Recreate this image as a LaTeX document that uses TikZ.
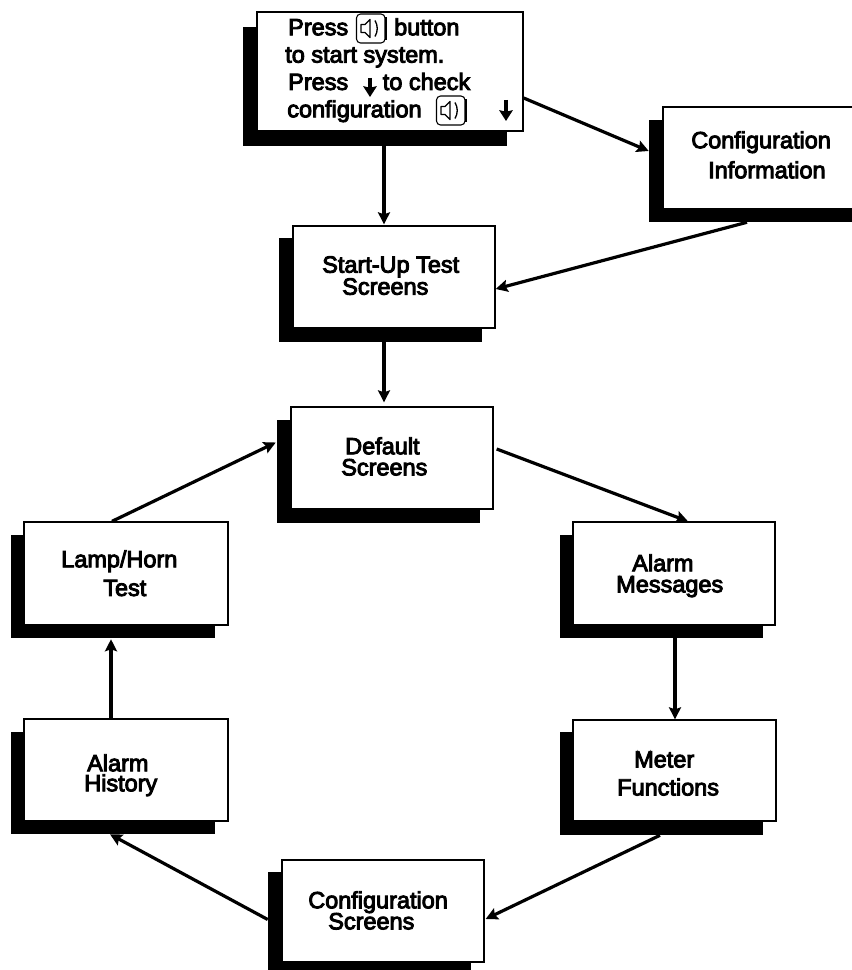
\documentclass[tikz,border=0pt]{standalone}
\usepackage{fontspec}
\setmainfont{Liberation Sans}
\usetikzlibrary{arrows.meta,fit}
\newcommand{\heavyon}{\special{pdf:code 2 Tr 0.7 w}}
\newcommand{\heavyoff}{\special{pdf:code 0 Tr 1 w}}
\tikzset{
  whitebox/.style={draw=black,fill=white,line width=1pt,inner sep=0pt},
  shadowbox/.style={draw=none,fill=black,inner sep=0pt},
  conn/.style={draw=black,line width=2.4pt,-{Stealth[length=9pt,width=9pt,inset=1.5pt]}},
  glyph/.style={draw=black,line width=2.4pt,-{Stealth[length=8pt,width=10pt,inset=1pt]}},
  iconline/.style={draw=black,line width=.8pt,line join=round},
  lbl/.style={align=left,inner sep=0pt,anchor=north west,text=black,
    execute at begin node=\heavyon,execute at end node=\heavyoff}
}
% name, white x1 y1 x2 y2, shadow x1 y1 x2 y2
\newcommand{\dropbox}[9]{%
  \node[shadowbox,fit={(#6,#7)(#8,#9)}] (#1S) {};
  \node[whitebox,fit={(#2,#3)(#4,#5)}] (#1) {};
}
% name, x, baseline of first line (px), line spacing (pt), text
\newcommand{\boxlabel}[5]{%
  \node[lbl,font={\fontsize{17.6}{#4}\selectfont\lineskiplimit=-100pt}] (#1) at (#2,#3-17) {#5};
}
\newcommand{\speaker}[2]{%
  \begin{scope}[shift={(#1,#2)}]
    \draw[iconline,rounded corners=3pt] (-14.5,-14.5) rectangle (14,14.5);
    \draw[iconline,line width=1.3pt] (15,-11) -- (15,12);
    \draw[iconline,line width=1pt] (-10,-4) -- (-6,-4) -- (-1,-9) -- (-1,9) -- (-6,4) -- (-10,4) -- cycle;
    \draw[iconline,line width=1pt] (4,-8) .. controls (7,-3) and (7,3) .. (4,8);
  \end{scope}
}
\begin{document}
\begin{tikzpicture}[x=.75pt,y=-.75pt]
\useasboundingbox (0,0) rectangle (852,970);
\fill[white] (0,0) rectangle (852,970);

\dropbox{top}{257}{12}{523}{131}{243}{27}{507}{146}
\dropbox{info}{663}{107}{870}{209}{649}{120}{870}{222}
\dropbox{startup}{293}{226}{495}{328}{279}{238}{482}{342}
\dropbox{default}{291}{407}{493}{509}{277}{420}{480}{523}
\dropbox{lamp}{24}{522}{228}{625}{11}{535}{215}{638}
\dropbox{history}{24}{719}{228}{821}{11}{732}{215}{834}
\dropbox{messages}{573}{522}{775}{625}{560}{535}{763}{638}
\dropbox{meter}{573}{720}{776}{821}{560}{732}{763}{835}
\dropbox{cscreens}{282}{860}{484}{962}{268}{872}{471}{985}

\node[lbl,font={\fontsize{17.6}{20.5}\selectfont\lineskiplimit=-100pt}] (toptext) at (285,18)
 {\hspace*{2.2pt}Press\hspace{34.5pt}button\\to start system.\\\hspace*{2.2pt}Press\hspace{26pt}to check\\\hspace*{1.5pt}configuration};
\speaker{371}{28.5}
\speaker{451}{110.5}
\draw[glyph] (370,78) -- (370,97);
\draw[glyph] (506,100) -- (506,121);

\boxlabel{infotext}{691}{148}{22.5}{Configuration\\\hspace*{12.7pt}Information}
\boxlabel{startuptext}{322}{273}{16.5}{Start-Up Test\\\hspace*{15pt}Screens}
\boxlabel{defaulttext}{341}{454}{15.8}{\hspace*{3pt}Default\\Screens}
\boxlabel{lamptext}{61}{567}{21.5}{Lamp/Horn\\\hspace*{31.5pt}Test}
\boxlabel{historytext}{84}{771}{15}{\hspace*{2.2pt}Alarm\\History}
\boxlabel{messagestext}{616}{571}{15.8}{\hspace*{12pt}Alarm\\Messages}
\boxlabel{metertext}{617}{768}{21}{\hspace*{12.7pt}Meter\\Functions}
\boxlabel{cscreenstext}{308}{908}{15.8}{Configuration\\\hspace*{15pt}Screens}

\draw[conn] ([shift={(9,0)}]topS.south) -- ([shift={(-10,-1)}]startup.north);
\draw[conn] ([shift={(0,26.5)}]top.east) -- ([shift={(0,-20)}]infoS.west);
\draw[conn] ([shift={(-12.5,0)}]infoS.south) -- ([shift={(0,12)}]startup.east);
\draw[conn] ([shift={(3.5,0)}]startupS.south) -- ([shift={(-8,-4)}]default.north);
\draw[conn] ([shift={(3,-9)}]default.east) -- ([shift={(14,0)}]messages.north);
\draw[conn] ([shift={(13.5,0)}]messagesS.south) -- ([shift={(0.5,0)}]meter.north);
\draw[conn] ([shift={(-1.5,0)}]meterS.south) -- ([shift={(1,8)}]cscreens.east);
\draw[conn] ([shift={(0,-9)}]cscreensS.west) -- ([shift={(-3,0)}]historyS.south);
\draw[conn] ([shift={(-15,0)}]history.north) -- ([shift={(-2,1)}]lampS.south);
\draw[conn] ([shift={(-14,0)}]lamp.north) -- ([shift={(-1,-29)}]defaultS.west);
\end{tikzpicture}
\end{document}
